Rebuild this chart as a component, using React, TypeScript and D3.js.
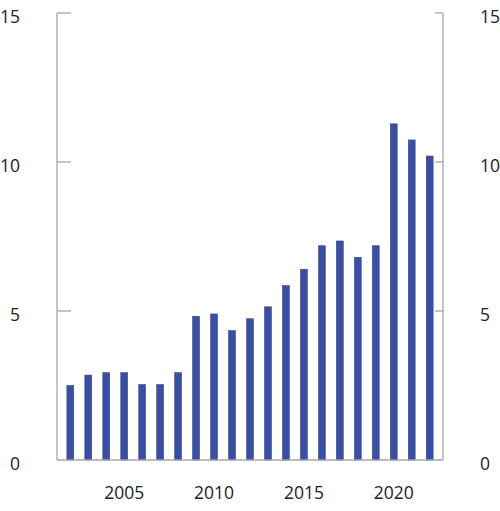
import * as d3 from "d3";

const years = d3.range(2002, 2023);
const values = [
  2.5, 2.85, 2.93, 2.93, 2.53, 2.53, 2.93, 4.82, 4.9, 4.34, 4.74, 5.14, 5.85,
  6.4, 7.19, 7.35, 6.8, 7.19, 11.28, 10.74, 10.2,
];
const yTicks = [0, 5, 10, 15];
const xLabels = [2005, 2010, 2015, 2020];

const WIDTH = 500;
const HEIGHT = 511;
const LEFT = 57;
const RIGHT = 443;
const TOP = 13;
const BOTTOM = 460;

export default function App() {
  const x = d3
    .scaleBand<number>()
    .domain(years)
    .range([LEFT, RIGHT])
    .paddingInner(0.62)
    .paddingOuter(0.55);
  const y = d3.scaleLinear().domain([0, 15]).range([BOTTOM, TOP]);
  const font = "'Open Sans', sans-serif";
  const axisColor = "#a6a6a6";
  const fs = 17.5;

  return (
    <svg
      width={WIDTH}
      height={HEIGHT}
      style={{ position: "absolute", left: 0, top: 0 }}
      fontFamily={font}
    >
      {values.map((v, i) => (
        <rect
          key={years[i]}
          x={x(years[i])}
          y={y(v)}
          width={x.bandwidth()}
          height={y(0) - y(v)}
          fill="#3a4fa1"
          stroke="#2f4194"
          strokeWidth={0.6}
        />
      ))}
      <line x1={LEFT} x2={LEFT} y1={TOP} y2={BOTTOM} stroke={axisColor} strokeWidth={1.3} />
      <line x1={RIGHT} x2={RIGHT} y1={TOP} y2={BOTTOM} stroke={axisColor} strokeWidth={1.3} />
      <line x1={LEFT} x2={RIGHT} y1={BOTTOM} y2={BOTTOM} stroke={axisColor} strokeWidth={1.5} />
      {yTicks.map((t) => (
        <g key={t}>
          {t > 0 && (
            <>
              <line x1={LEFT} x2={LEFT + 14} y1={y(t)} y2={y(t)} stroke={axisColor} strokeWidth={1.3} />
              <line x1={RIGHT - 8} x2={RIGHT} y1={y(t)} y2={y(t)} stroke={axisColor} strokeWidth={1.3} />
            </>
          )}
          <text x={20} y={y(t) + 9.5} textAnchor="end" fontSize={fs} fill="#222">
            {t}
          </text>
          <text x={480} y={y(t) + 9.5} textAnchor="start" fontSize={fs} fill="#222">
            {t}
          </text>
        </g>
      ))}
      {xLabels.map((yr) => (
        <text
          key={yr}
          x={(x(yr) ?? 0) + x.bandwidth() / 2}
          y={499}
          textAnchor="middle"
          fontSize={fs}
          fill="#222"
        >
          {yr}
        </text>
      ))}
    </svg>
  );
}
